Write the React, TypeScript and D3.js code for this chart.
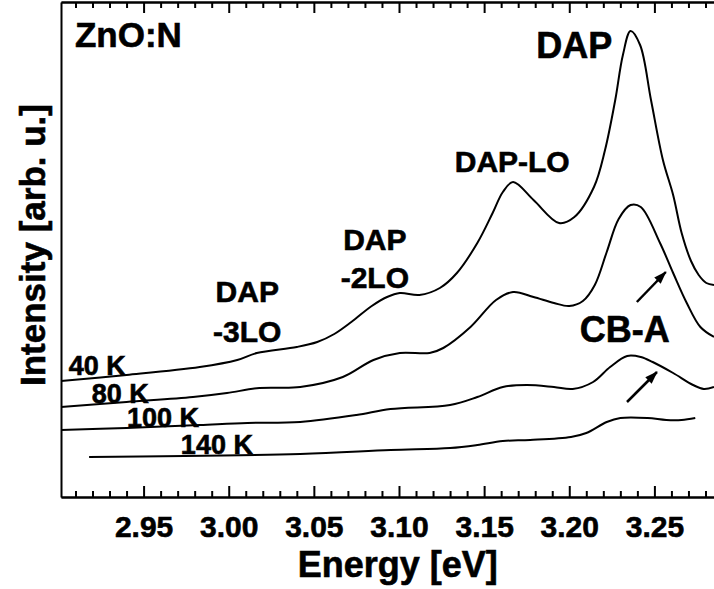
import { useEffect, useRef } from "react"
import * as d3 from "d3";

// x axis labels
const energyTicks: number[] = [2.95, 3.00, 3.05, 3.10, 3.15, 3.20, 3.25];

// spectra (energy in eV, intensity in arb. units, curves offset vertically)
const energy40K: number[] = [2.9015, 2.940, 2.983, 3.005, 3.0165, 3.040, 3.052, 3.062, 3.072, 3.084, 3.093, 3.1005, 3.112, 3.124, 3.134, 3.146, 3.155, 3.161, 3.167, 3.179, 3.194, 3.203, 3.2145, 3.221, 3.227, 3.2315, 3.236, 3.2416, 3.248, 3.255, 3.261, 3.266, 3.2715, 3.276, 3.2805, 3.285];
const intensity40K: number[] = [116, 122, 130, 137, 144, 150, 155, 163, 175, 191, 200, 204, 202, 209, 224, 254, 284, 305, 315, 297, 274, 280, 310, 347, 397, 442, 466, 452, 397, 337, 302, 264, 236, 222, 214, 212];

const energy80K: number[] = [2.9015, 2.940, 2.979, 2.999, 3.018, 3.042, 3.067, 3.085, 3.1005, 3.118, 3.126, 3.142, 3.157, 3.167, 3.179, 3.191, 3.200, 3.208, 3.215, 3.222, 3.229, 3.236, 3.242, 3.2533, 3.261, 3.269, 3.277, 3.285];
const intensity80K: number[] = [90, 95, 100, 104, 109, 110, 120, 137, 144, 144, 149, 170, 197, 205, 200, 194, 191, 196, 212, 245, 278, 292, 290, 254, 224, 194, 170, 160];

const energy100K: number[] = [2.9015, 2.940, 2.983, 3.011, 3.042, 3.075, 3.095, 3.130, 3.146, 3.161, 3.175, 3.191, 3.202, 3.214, 3.224, 3.234, 3.242, 3.249, 3.261, 3.2727, 3.279, 3.285];
const intensity100K: number[] = [67, 69, 72, 74, 75, 82, 88, 92, 100, 110, 112, 110, 108, 115, 130, 141, 140, 135, 124, 112, 108, 110];

const energy140K: number[] = [2.918, 3.042, 3.095, 3.130, 3.146, 3.161, 3.177, 3.201, 3.210, 3.222, 3.230, 3.246, 3.257, 3.266, 3.274];
const intensity140K: number[] = [40, 43, 47, 49, 52, 56, 57, 60, 64, 75, 79, 79, 77, 77, 79];

const temperatures: string[] = ["40 K", "80 K", "100 K", "140 K"];

const FONT = "'Liberation Sans', Arial, Helvetica, sans-serif";

export default function App() {
    const svgRef = useRef<SVGSVGElement | null>(null);

    useEffect(() => {
        if (!svgRef.current) return;
        const width = 714;
        const height = 589;
        const plot = { left: 61, right: 714, top: 2, bottom: 497 };

        const svg = d3.select(svgRef.current)
            .attr("width", width)
            .attr("height", height);
        svg.selectAll("*").remove();

        const x = d3.scaleLinear().domain([2.9015, 3.285]).range([plot.left, plot.right]);
        const y = d3.scaleLinear().domain([0, 495]).range([plot.bottom, plot.top]);

        // minor ticks every 0.01 eV
        const minor = d3.range(291, 329).map(d => d / 100).filter(d => Math.round(d * 100) % 5 !== 0);

        const styleAxis = (g: any) => {
            g.select(".domain").attr("stroke", "#000").attr("stroke-width", 2);
            g.selectAll(".tick line").attr("stroke", "#000").attr("stroke-width", 2);
        };

        // bottom axis, ticks pointing inwards
        const bottom = svg.append("g")
            .attr("transform", `translate(0,${plot.bottom})`)
            .call(d3.axisBottom(x).tickValues(energyTicks).tickSize(-11).tickSizeOuter(0).tickFormat(d3.format(".2f")));
        styleAxis(bottom);
        bottom.selectAll("text")
            .attr("y", 40)
            .attr("dy", null)
            .attr("fill", "#000")
            .attr("stroke", "#000")
            .attr("stroke-width", 0.6)
            .style("font-family", FONT)
            .style("font-weight", "bold")
            .style("font-size", "30px");
        svg.append("g")
            .attr("transform", `translate(0,${plot.bottom})`)
            .call(d3.axisBottom(x).tickValues(minor).tickSize(-6).tickSizeOuter(0).tickFormat(() => ""))
            .call(styleAxis);

        // top axis
        svg.append("g")
            .attr("transform", `translate(0,${plot.top})`)
            .call(d3.axisTop(x).tickValues(energyTicks).tickSize(-11).tickSizeOuter(0).tickFormat(() => ""))
            .call(styleAxis);
        svg.append("g")
            .attr("transform", `translate(0,${plot.top})`)
            .call(d3.axisTop(x).tickValues(minor).tickSize(-6).tickSizeOuter(0).tickFormat(() => ""))
            .call(styleAxis);

        // left axis, no ticks
        svg.append("g")
            .attr("transform", `translate(${plot.left},0)`)
            .call(d3.axisLeft(y).tickValues([]).tickSizeOuter(0))
            .call(styleAxis);

        // spectra
        const line = d3.line<[number, number]>()
            .x(d => x(d[0]))
            .y(d => y(d[1]))
            .curve(d3.curveCatmullRom.alpha(0.5));

        const series = [
            d3.zip(energy40K, intensity40K),
            d3.zip(energy80K, intensity80K),
            d3.zip(energy100K, intensity100K),
            d3.zip(energy140K, intensity140K),
        ];
        svg.append("g")
            .selectAll("path")
            .data(series)
            .join("path")
            .attr("d", (d: any) => line(d))
            .attr("fill", "none")
            .attr("stroke", "#000")
            .attr("stroke-width", 2);

        // arrows for CB-A
        svg.append("defs").append("marker")
            .attr("id", "arrowhead")
            .attr("markerUnits", "userSpaceOnUse")
            .attr("markerWidth", 13)
            .attr("markerHeight", 9)
            .attr("refX", 12)
            .attr("refY", 4.5)
            .attr("orient", "auto")
            .append("path")
            .attr("d", "M0,0 L13,4.5 L0,9 Z")
            .attr("fill", "#000");

        const arrows = [
            [[3.2397, 195], [3.2567, 225]],
            [[3.2339, 95], [3.2515, 125]],
        ];
        svg.append("g")
            .selectAll("line")
            .data(arrows)
            .join("line")
            .attr("x1", d => x(d[0][0]))
            .attr("y1", d => y(d[0][1]))
            .attr("x2", d => x(d[1][0]))
            .attr("y2", d => y(d[1][1]))
            .attr("stroke", "#000")
            .attr("stroke-width", 2.5)
            .attr("marker-end", "url(#arrowhead)");

        const label = (txt: string, e: number, v: number, size: number, anchor = "middle") =>
            svg.append("text")
                .attr("x", x(e))
                .attr("y", y(v))
                .attr("text-anchor", anchor)
                .attr("stroke", "#000")
                .attr("stroke-width", 0.6)
                .style("font-family", FONT)
                .style("font-weight", "bold")
                .style("font-size", `${size}px`)
                .text(txt);

        label("ZnO:N", 2.9097, 450, 35, "start");
        label("DAP", 3.2029, 439, 36);
        label("DAP-LO", 3.1665, 325, 30);
        label("DAP", 3.0858, 247, 30);
        label("-2LO", 3.0858, 209, 30);
        label("DAP", 3.0109, 195, 30);
        label("-3LO", 3.0109, 155, 30);
        label("CB-A", 3.2326, 155, 36);

        // temperature labels sit at the start of each curve
        const tempPos = [[2.9061, 122], [2.9196, 94], [2.9402, 70], [2.9719, 43]];
        temperatures.forEach((t, i) => label(t, tempPos[i][0], tempPos[i][1], 27, "start"));

        // axis titles
        svg.append("text")
            .attr("x", x(3.0993))
            .attr("y", 577)
            .attr("text-anchor", "middle")
            .attr("stroke", "#000")
            .attr("stroke-width", 0.6)
            .style("font-family", FONT)
            .style("font-weight", "bold")
            .style("font-size", "36px")
            .text("Energy [eV]");

        svg.append("text")
            .attr("transform", `translate(45,${y(252)}) rotate(-90)`)
            .attr("text-anchor", "middle")
            .attr("stroke", "#000")
            .attr("stroke-width", 0.6)
            .style("font-family", FONT)
            .style("font-weight", "bold")
            .style("font-size", "35px")
            .text("Intensity [arb. u.]");
    }, []);

    return (
        <div style={{ position: "absolute", left: 0, top: 0, width: 714, height: 589, background: "#fff" }}>
            <svg ref={svgRef} style={{ display: "block" }}></svg>
        </div>
    )
}
